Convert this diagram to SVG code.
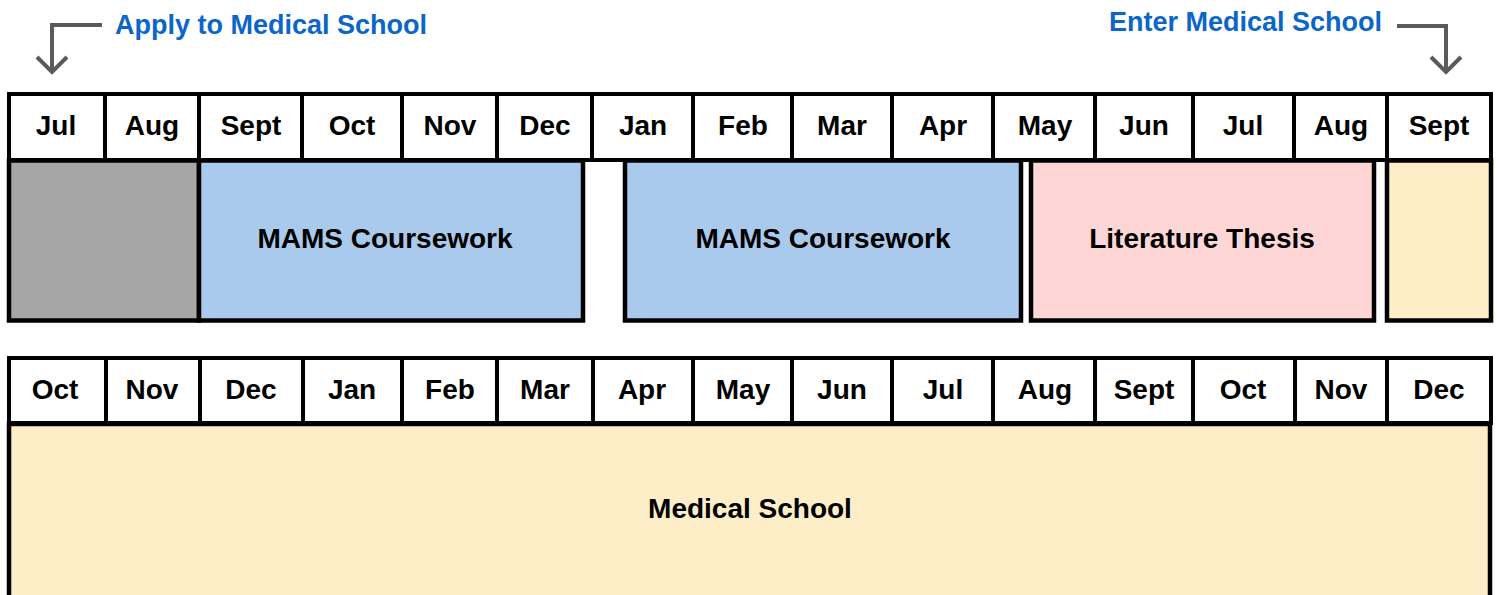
<svg xmlns="http://www.w3.org/2000/svg" width="1497" height="595" viewBox="0 0 1497 595">
<style>
.bg{fill:#ffffff}
.cell{fill:#ffffff;stroke:#000;stroke-width:4}
.bar{stroke:#000;stroke-width:4.5}
.m{font-family:"Liberation Sans",Arial,sans-serif;font-weight:bold;font-size:28px;fill:#000;text-anchor:middle}
.lbl{font-family:"Liberation Sans",Arial,sans-serif;font-weight:bold;font-size:28px;fill:#000;text-anchor:middle}
.ann{font-family:"Liberation Sans",Arial,sans-serif;font-weight:bold;font-size:27px;fill:#0a66c8}
.arr{fill:none;stroke:#5a5a5a;stroke-width:4;stroke-linecap:butt;stroke-linejoin:miter}
</style>
<rect class="bg" x="0" y="0" width="1497" height="595"/>

<g id="header-top">
<rect class="cell" x="9" y="94" width="96" height="66"/>
<rect class="cell" x="105" y="94" width="94" height="66"/>
<rect class="cell" x="199" y="94" width="103" height="66"/>
<rect class="cell" x="302" y="94" width="100" height="66"/>
<rect class="cell" x="402" y="94" width="95" height="66"/>
<rect class="cell" x="497" y="94" width="95" height="66"/>
<rect class="cell" x="592" y="94" width="101" height="66"/>
<rect class="cell" x="693" y="94" width="99" height="66"/>
<rect class="cell" x="792" y="94" width="100" height="66"/>
<rect class="cell" x="892" y="94" width="101" height="66"/>
<rect class="cell" x="993" y="94" width="102" height="66"/>
<rect class="cell" x="1095" y="94" width="98" height="66"/>
<rect class="cell" x="1193" y="94" width="101" height="66"/>
<rect class="cell" x="1294" y="94" width="93" height="66"/>
<rect class="cell" x="1387" y="94" width="104" height="66"/>
<text class="m" x="56" y="135">Jul</text>
<text class="m" x="152" y="135">Aug</text>
<text class="m" x="251" y="135">Sept</text>
<text class="m" x="352" y="135">Oct</text>
<text class="m" x="450" y="135">Nov</text>
<text class="m" x="545" y="135">Dec</text>
<text class="m" x="643" y="135">Jan</text>
<text class="m" x="743" y="135">Feb</text>
<text class="m" x="842" y="135">Mar</text>
<text class="m" x="943" y="135">Apr</text>
<text class="m" x="1045" y="135">May</text>
<text class="m" x="1144" y="135">Jun</text>
<text class="m" x="1243" y="135">Jul</text>
<text class="m" x="1341" y="135">Aug</text>
<text class="m" x="1439" y="135">Sept</text>
</g>

<g id="bar-gray">
<rect class="bar" x="9" y="160.5" width="190" height="160" fill="#a6a6a6"/>
</g>
<g id="bar-mams-1">
<rect class="bar" x="199" y="160.5" width="384" height="160" fill="#a9caec"/>
<text class="lbl" x="385" y="248">MAMS Coursework</text>
</g>
<g id="bar-mams-2">
<rect class="bar" x="625" y="160.5" width="396" height="160" fill="#a9caec"/>
<text class="lbl" x="823" y="248">MAMS Coursework</text>
</g>
<g id="bar-thesis">
<rect class="bar" x="1031" y="160.5" width="343" height="160" fill="#fed6d6"/>
<text class="lbl" x="1202" y="248">Literature Thesis</text>
</g>
<g id="bar-yellow-top">
<rect class="bar" x="1387" y="160.5" width="104" height="160" fill="#fdeec8"/>
</g>

<g id="header-bottom">
<rect class="cell" x="9" y="358" width="97" height="65"/>
<rect class="cell" x="106" y="358" width="94" height="65"/>
<rect class="cell" x="200" y="358" width="103" height="65"/>
<rect class="cell" x="303" y="358" width="99" height="65"/>
<rect class="cell" x="402" y="358" width="95" height="65"/>
<rect class="cell" x="497" y="358" width="96" height="65"/>
<rect class="cell" x="593" y="358" width="100" height="65"/>
<rect class="cell" x="693" y="358" width="99" height="65"/>
<rect class="cell" x="792" y="358" width="100" height="65"/>
<rect class="cell" x="892" y="358" width="101" height="65"/>
<rect class="cell" x="993" y="358" width="102" height="65"/>
<rect class="cell" x="1095" y="358" width="98" height="65"/>
<rect class="cell" x="1193" y="358" width="102" height="65"/>
<rect class="cell" x="1295" y="358" width="92" height="65"/>
<rect class="cell" x="1387" y="358" width="104" height="65"/>
<text class="m" x="55" y="399">Oct</text>
<text class="m" x="152" y="399">Nov</text>
<text class="m" x="251" y="399">Dec</text>
<text class="m" x="352" y="399">Jan</text>
<text class="m" x="450" y="399">Feb</text>
<text class="m" x="545" y="399">Mar</text>
<text class="m" x="642" y="399">Apr</text>
<text class="m" x="743" y="399">May</text>
<text class="m" x="842" y="399">Jun</text>
<text class="m" x="943" y="399">Jul</text>
<text class="m" x="1045" y="399">Aug</text>
<text class="m" x="1144" y="399">Sept</text>
<text class="m" x="1243" y="399">Oct</text>
<text class="m" x="1341" y="399">Nov</text>
<text class="m" x="1439" y="399">Dec</text>
</g>

<g id="bar-medical-school">
<rect class="bar" x="9" y="424" width="1481" height="180" fill="#fdeec8"/>
<text class="lbl" x="750" y="518">Medical School</text>
</g>

<g id="annotations">
<text class="ann" x="115" y="34">Apply to Medical School</text>
<text class="ann" x="1109" y="31">Enter Medical School</text>
</g>

<g id="connectors">
<path class="arr" d="M102 25 H52 V72"/>
<path class="arr" d="M37 57 L52 72 L67 57"/>
<path class="arr" d="M1397 26 H1446 V72"/>
<path class="arr" d="M1431 57 L1446 72 L1461 57"/>
</g>
</svg>
